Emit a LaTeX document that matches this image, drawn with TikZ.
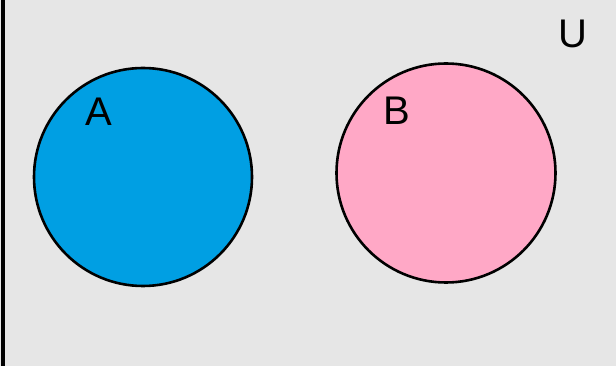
\documentclass[tikz,border=0pt]{standalone}
\usepackage{fontspec}
\setmainfont{Liberation Sans}
\definecolor{bgU}{RGB}{230,230,230}
\definecolor{setA}{RGB}{0,159,227}
\definecolor{setB}{RGB}{255,168,198}
\begin{document}
\begin{tikzpicture}[x=1pt,y=-1pt,
  setcircle/.style={circle, draw=black, line width=2.6pt, inner sep=0pt},
  setlabel/.style={font=\fontsize{40}{48}\selectfont, text=black, inner sep=0pt}]
\useasboundingbox (0,0) rectangle (616,366);
\fill[bgU] (0,0) rectangle (616,366);
\fill[black] (1,0) rectangle (5,366);
\node[setcircle, fill=setA, minimum size=218pt] (A) at (143,177) {};
\node[setcircle, fill=setB, minimum size=219pt] (B) at (446,173) {};
\node[setlabel] (la) at (99,111.5) {A};
\node[setlabel] (lb) at (397,111) {B};
\node[setlabel] (lu) at (573,34) {U};
\end{tikzpicture}
\end{document}
